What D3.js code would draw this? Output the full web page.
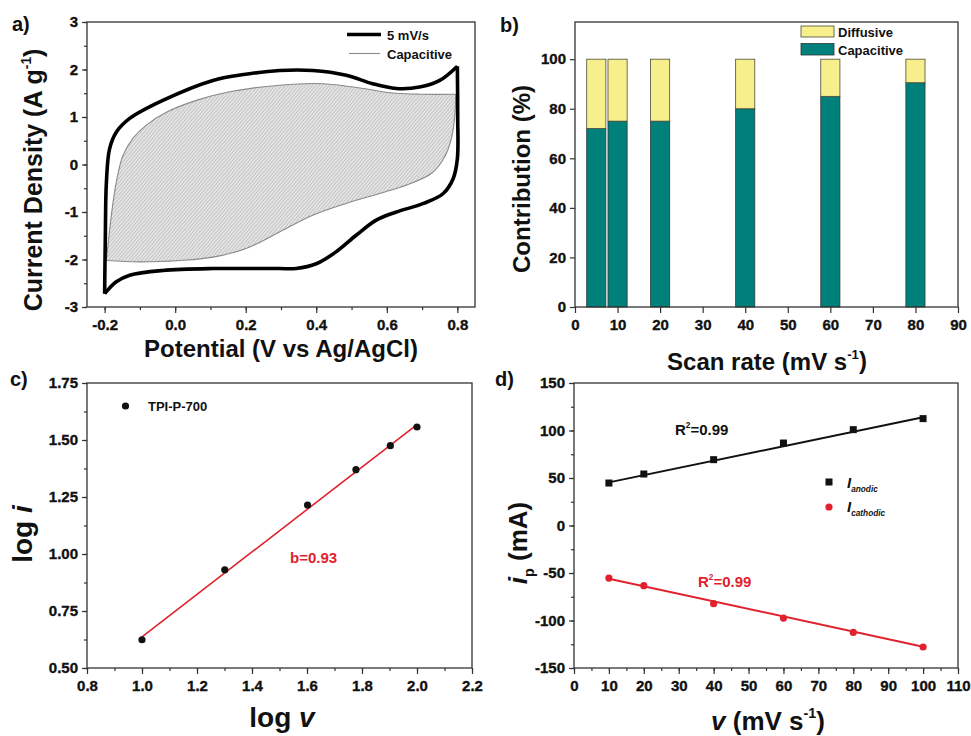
<!DOCTYPE html>
<html><head><meta charset="utf-8">
<script src="https://cdn.jsdelivr.net/npm/d3@7"></script>
<style>
body{margin:0;background:#fff;}
text{font-family:"Liberation Sans",Arial,sans-serif;font-weight:bold;fill:#111;}
</style></head>
<body>
<svg id="c" width="971" height="736"></svg>
<script>
// ---------- DATA ----------
// panel a: CV loops (potential V, current density A/g)
const cvOuterUpper = [[-0.2,-2.72],[-0.198,-1.5],[-0.195,-0.37],[-0.186,0.33],[-0.167,0.68],[-0.129,0.97],[-0.035,1.35],[0.107,1.77],[0.2,1.90],[0.296,1.98],[0.39,1.98],[0.485,1.88],[0.56,1.70],[0.627,1.60],[0.693,1.63],[0.75,1.77],[0.8,2.07]];
const cvOuterLower = [[0.8,2.07],[0.801,1.0],[0.8,0.12],[0.788,-0.30],[0.76,-0.61],[0.704,-0.82],[0.627,-1.0],[0.57,-1.17],[0.513,-1.49],[0.456,-1.84],[0.40,-2.09],[0.343,-2.19],[0.296,-2.19],[0.2,-2.19],[0.107,-2.19],[-0.035,-2.23],[-0.129,-2.33],[-0.167,-2.47],[-0.2,-2.72]];
const capUpper = [[-0.195,-2.02],[-0.181,-1.07],[-0.167,-0.37],[-0.148,0.19],[-0.12,0.55],[-0.082,0.83],[-0.025,1.10],[0.06,1.35],[0.154,1.53],[0.296,1.67],[0.42,1.70],[0.533,1.60],[0.61,1.51],[0.693,1.48],[0.795,1.48]];
const capLower = [[0.795,1.48],[0.793,1.04],[0.783,0.55],[0.766,0.19],[0.728,-0.18],[0.66,-0.42],[0.58,-0.61],[0.485,-0.82],[0.39,-1.07],[0.296,-1.42],[0.201,-1.77],[0.107,-1.95],[0.013,-2.02],[-0.10,-2.05],[-0.195,-2.02]];
const aXTicks = [-0.2,0.0,0.2,0.4,0.6,0.8];
const aYTicks = [-3,-2,-1,0,1,2,3];

// panel b: contribution bars
const scanRates = [5,10,20,40,60,80];
const capacitivePct = [72,75,75,80,85,90.5];
const diffusivePct = [28,25,25,20,15,9.5];
const bXTicks = [0,10,20,30,40,50,60,70,80,90];
const bYTicks = [0,20,40,60,80,100];

// panel c: log i vs log v
const logV = [1.0,1.301,1.602,1.778,1.903,2.0];
const logI = [0.624,0.931,1.215,1.37,1.475,1.557];
const logFit = [[1.0,0.637],[2.0,1.567]];
const cXTicks = [0.8,1.0,1.2,1.4,1.6,1.8,2.0,2.2];
const cYTicks = [0.50,0.75,1.00,1.25,1.50,1.75];

// panel d: peak currents
const sweepV = [10,20,40,60,80,100];
const iAnodic = [44.7,54.2,69.3,86.8,100.9,112.5];
const iCathodic = [-55.3,-63.3,-82.3,-97.4,-112.5,-127.9];
const anodicFit = [[10,45.4],[100,113.9]];
const cathodicFit = [[10,-56],[100,-127.6]];
const dXTicks = [0,10,20,30,40,50,60,70,80,90,100,110];
const dYTicks = [-150,-100,-50,0,50,100,150];

// ---------- DRAW ----------
const svg = d3.select('#c');
svg.append('rect').attr('width',971).attr('height',736).attr('fill','#fff');
const defs = svg.append('defs');
const pat = defs.append('pattern').attr('id','hatch').attr('patternUnits','userSpaceOnUse')
  .attr('width',2.6).attr('height',2.6).attr('patternTransform','rotate(40)');
pat.append('rect').attr('width',2.6).attr('height',2.6).attr('fill','#e4e4e4');
pat.append('line').attr('x1',0).attr('y1',0).attr('x2',0).attr('y2',2.6).attr('stroke','#a8a8a8').attr('stroke-width',1);

function range(a,b,s){const r=[];for(let v=a;v<=b+1e-9;v+=s)r.push(+v.toFixed(6));return r;}

function axes(x,y,o){
  const g = svg.append('g');
  const [y0,y1] = y.range(); const [x0,x1] = x.range();
  if(o.xminor){
    g.append('g').attr('transform',`translate(0,${y0})`)
      .call(d3.axisBottom(x).tickValues(o.xminor).tickFormat('').tickSize(3).tickSizeOuter(0))
      .call(s=>s.select('.domain').remove());
  }
  if(o.yminor){
    g.append('g').attr('transform',`translate(${x0},0)`)
      .call(d3.axisLeft(y).tickValues(o.yminor).tickFormat('').tickSize(3).tickSizeOuter(0))
      .call(s=>s.select('.domain').remove());
  }
  const gx = g.append('g').attr('transform',`translate(0,${y0})`)
    .call(d3.axisBottom(x).tickValues(o.xticks).tickFormat(o.xfmt).tickSize(6).tickPadding(6).tickSizeOuter(0));
  const gy = g.append('g').attr('transform',`translate(${x0},0)`)
    .call(d3.axisLeft(y).tickValues(o.yticks).tickFormat(o.yfmt).tickSize(5).tickPadding(4).tickSizeOuter(0));
  [gx,gy].forEach(s=>{
    s.select('.domain').remove();
    s.attr('font-family',null).attr('font-size',null);
    s.selectAll('text').attr('font-size',15).attr('font-family','"Liberation Sans",Arial,sans-serif')
      .attr('font-weight','bold').attr('fill','#111').attr('stroke','#111').attr('stroke-width',0.35);
  });
  g.selectAll('.tick line').attr('stroke','#333').attr('stroke-width',1.2);
  g.append('rect').attr('x',x0).attr('y',y1).attr('width',x1-x0).attr('height',y0-y1)
    .attr('fill','none').attr('stroke','#333').attr('stroke-width',1.3);
}

function label(x,y,parts,opts={}){
  const t = svg.append('text').attr('x',x).attr('y',y).attr('font-size',opts.size||24)
    .attr('text-anchor',opts.anchor||'middle');
  if(opts.rotate) t.attr('transform',`rotate(-90,${x},${y})`);
  parts.forEach(p=>{
    const ts = t.append('tspan').text(p.t);
    if(p.italic) ts.attr('font-style','italic');
    if(p.sup){ ts.attr('font-size',(opts.size||24)*0.55).attr('dy',-(opts.size||24)*0.45); }
    if(p.sub){ ts.attr('font-size',(opts.size||24)*0.55).attr('dy',(opts.size||24)*0.25); }
    if(p.back){ ts.attr('dy',p.back); }
    if(opts.fill) ts.attr('fill',opts.fill);
  });
  if(opts.fill) t.attr('fill',opts.fill);
  return t;
}

// ---- panel a ----
{
  const x = d3.scaleLinear([-0.25,0.85],[87,475]);
  const y = d3.scaleLinear([-3,3],[307,22]);
  const ln = d3.line().x(d=>x(d[0])).y(d=>y(d[1])).curve(d3.curveCatmullRom.alpha(0.5));
  svg.append('path').attr('d', ln(capUpper)+' '+ln(capLower).replace(/^M/,'L')+'Z')
    .attr('fill','url(#hatch)').attr('stroke','none');
  svg.append('path').attr('d',ln(capUpper)).attr('fill','none').attr('stroke','#8a8a8a').attr('stroke-width',1.1);
  svg.append('path').attr('d',ln(capLower)).attr('fill','none').attr('stroke','#8a8a8a').attr('stroke-width',1.1);
  svg.append('path').attr('d',ln(cvOuterUpper)).attr('fill','none').attr('stroke','#000').attr('stroke-width',3.6).attr('stroke-linejoin','round');
  svg.append('path').attr('d',ln(cvOuterLower)).attr('fill','none').attr('stroke','#000').attr('stroke-width',3.6).attr('stroke-linejoin','round');
  axes(x,y,{xticks:aXTicks,yticks:aYTicks,xminor:range(-0.2,0.8,0.1),yminor:range(-3,3,0.5),
    xfmt:d=>d3.format('.1f')(d).replace('−','-'),yfmt:d=>d3.format('d')(d).replace('−','-')});
  // legend
  svg.append('line').attr('x1',347).attr('x2',381).attr('y1',34.5).attr('y2',34.5).attr('stroke','#000').attr('stroke-width',3.6);
  svg.append('line').attr('x1',349).attr('x2',380).attr('y1',53.5).attr('y2',53.5).attr('stroke','#8a8a8a').attr('stroke-width',1.1);
  label(387,39.5,[{t:'5 mV/s'}],{size:13,anchor:'start'});
  label(387,58.5,[{t:'Capacitive'}],{size:13,anchor:'start'});
  label(42,180,[{t:'Current Density (A g'},{t:'-1',sup:true},{t:')',back:11}],{size:25,rotate:true});
  label(281,357,[{t:'Potential (V vs Ag/AgCl)'}],{size:24});
  label(12,31,[{t:'a)'}],{size:20,anchor:'start'});
}

// ---- panel b ----
{
  const x = d3.scaleLinear([0,90],[575,958]);
  const y = d3.scaleLinear([0,115],[307,22]);
  const bw = x(4.5)-x(0);
  const g = svg.append('g');
  scanRates.forEach((r,i)=>{
    g.append('rect').attr('x',x(r)-bw/2).attr('width',bw).attr('y',y(capacitivePct[i]))
      .attr('height',y(0)-y(capacitivePct[i])).attr('fill','#00807a').attr('stroke','#2a3a38').attr('stroke-width',0.8);
    g.append('rect').attr('x',x(r)-bw/2).attr('width',bw).attr('y',y(capacitivePct[i]+diffusivePct[i]))
      .attr('height',y(capacitivePct[i])-y(capacitivePct[i]+diffusivePct[i])).attr('fill','#f6ef8c').attr('stroke','#4a4a3a').attr('stroke-width',0.8);
  });
  axes(x,y,{xticks:bXTicks,yticks:bYTicks,xfmt:d3.format('d'),yfmt:d3.format('d')});
  svg.append('rect').attr('x',801).attr('y',26).attr('width',33).attr('height',11).attr('fill','#f6ef8c').attr('stroke','#4a4a3a').attr('stroke-width',0.8);
  svg.append('rect').attr('x',801).attr('y',43.5).attr('width',33).attr('height',11.5).attr('fill','#00807a').attr('stroke','#2a3a38').attr('stroke-width',0.8);
  label(838,36.5,[{t:'Diffusive'}],{size:13,anchor:'start'});
  label(838,54.5,[{t:'Capacitive'}],{size:13,anchor:'start'});
  label(530,179,[{t:'Contribution (%)'}],{size:24,rotate:true});
  label(767,370,[{t:'Scan rate (mV s'},{t:'-1',sup:true},{t:')',back:10}],{size:24});
  label(500,32,[{t:'b)'}],{size:20,anchor:'start'});
}

// ---- panel c ----
{
  const x = d3.scaleLinear([0.8,2.2],[87,472]);
  const y = d3.scaleLinear([0.5,1.75],[668,383]);
  axes(x,y,{xticks:cXTicks,yticks:cYTicks,xminor:range(0.8,2.2,0.1),yminor:range(0.5,1.75,0.125),
    xfmt:d3.format('.1f'),yfmt:d3.format('.2f')});
  svg.append('path').attr('d',d3.line().x(d=>x(d[0])).y(d=>y(d[1]))(logFit))
    .attr('stroke','#e0222e').attr('stroke-width',1.6).attr('fill','none');
  svg.append('g').selectAll('circle').data(logV).join('circle')
    .attr('cx',d=>x(d)).attr('cy',(d,i)=>y(logI[i])).attr('r',3.6).attr('fill','#111');
  svg.append('circle').attr('cx',125.5).attr('cy',406).attr('r',3.6).attr('fill','#111');
  label(148,411,[{t:'TPI-P-700'}],{size:13,anchor:'start'});
  label(290,563,[{t:'b=0.93'}],{size:15,anchor:'start',fill:'#e0222e'});
  label(32,534,[{t:'log '},{t:'i',italic:true}],{size:28,rotate:true});
  label(282,727,[{t:'log '},{t:'v',italic:true}],{size:28});
  label(10,386,[{t:'c)'}],{size:20,anchor:'start'});
}

// ---- panel d ----
{
  const x = d3.scaleLinear([0,110],[574,958]);
  const y = d3.scaleLinear([-150,150],[668,383]);
  axes(x,y,{xticks:dXTicks,yticks:dYTicks,xminor:range(0,110,5),yminor:range(-150,150,25),
    xfmt:d3.format('d'),yfmt:d=>String(d)});
  const ln = d3.line().x(d=>x(d[0])).y(d=>y(d[1]));
  svg.append('path').attr('d',ln(anodicFit)).attr('stroke','#111').attr('stroke-width',2).attr('fill','none');
  svg.append('path').attr('d',ln(cathodicFit)).attr('stroke','#e0222e').attr('stroke-width',2).attr('fill','none');
  svg.append('g').selectAll('rect').data(sweepV).join('rect')
    .attr('x',d=>x(d)-3.5).attr('y',(d,i)=>y(iAnodic[i])-3.5).attr('width',7).attr('height',7).attr('fill','#111');
  svg.append('g').selectAll('circle').data(sweepV).join('circle')
    .attr('cx',d=>x(d)).attr('cy',(d,i)=>y(iCathodic[i])).attr('r',3.6).attr('fill','#e0222e');
  svg.append('rect').attr('x',825.5).attr('y',478.5).attr('width',7).attr('height',7).attr('fill','#111');
  svg.append('circle').attr('cx',829).attr('cy',507).attr('r',3.6).attr('fill','#e0222e');
  label(847,488,[{t:'I',italic:true},{t:'anodic',italic:true,sub:true}],{size:15,anchor:'start'});
  label(847,512,[{t:'I',italic:true},{t:'cathodic',italic:true,sub:true}],{size:15,anchor:'start'});
  label(675,435,[{t:'R'},{t:'2',sup:true},{t:'=0.99',back:6.75}],{size:15,anchor:'start'});
  label(698,587,[{t:'R'},{t:'2',sup:true},{t:'=0.99',back:6.75}],{size:15,anchor:'start',fill:'#e0222e'});
  label(527,543,[{t:'i',italic:true},{t:'p',sub:true},{t:' (mA)',back:-6.5}],{size:26,rotate:true});
  label(768,730,[{t:'v',italic:true},{t:' (mV s'},{t:'-1',sup:true},{t:')',back:11.7}],{size:26});
  label(495,386,[{t:'d)'}],{size:20,anchor:'start'});
}
</script>
</body></html>
